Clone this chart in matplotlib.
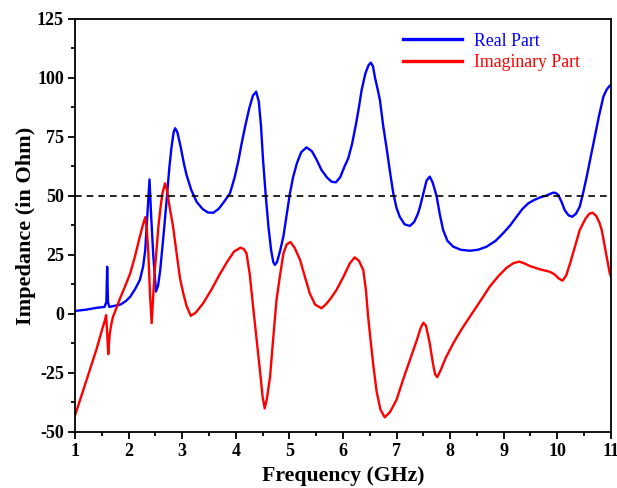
import matplotlib
matplotlib.use("Agg")
import matplotlib.pyplot as plt
from matplotlib.ticker import MultipleLocator

# Real part (frequency GHz, impedance Ohm)
real_freq = [1.0, 1.2, 1.4, 1.55, 1.585, 1.60, 1.615, 1.64, 1.75, 1.85, 1.95, 2.03, 2.12, 2.21, 2.27,
             2.31, 2.35, 2.39, 2.42, 2.46, 2.51, 2.55, 2.59, 2.65, 2.71, 2.76, 2.80, 2.84, 2.87, 2.91,
             2.97, 3.03, 3.08, 3.17, 3.27, 3.38, 3.48, 3.58, 3.68, 3.78, 3.89, 3.98, 4.05, 4.11, 4.18,
             4.25, 4.32, 4.38, 4.43, 4.47, 4.51, 4.56, 4.61, 4.66, 4.70, 4.73, 4.77, 4.83, 4.89, 4.95,
             5.01, 5.07, 5.14, 5.22, 5.32, 5.42, 5.51, 5.60, 5.70, 5.79, 5.87, 5.95, 6.03, 6.10, 6.17,
             6.24, 6.29, 6.35, 6.42, 6.48, 6.52, 6.56, 6.60, 6.65, 6.69, 6.75, 6.82, 6.88, 6.94, 7.00,
             7.06, 7.15, 7.25, 7.33, 7.40, 7.44, 7.50, 7.56, 7.62, 7.67, 7.71, 7.75, 7.81, 7.87, 7.95,
             8.06, 8.20, 8.37, 8.52, 8.68, 8.85, 8.99, 9.12, 9.24, 9.35, 9.46, 9.57, 9.68, 9.80, 9.92,
             9.97, 10.02, 10.08, 10.14, 10.21, 10.28, 10.35, 10.42, 10.48, 10.55, 10.62, 10.70, 10.78,
             10.86, 10.92, 10.97, 11.0]
real_vals = [1.3, 1.8, 2.6, 3.0, 5.0, 20.0, 5.0, 3.0, 3.5, 4.0, 5.5, 7.3, 10.5, 14.4, 20.0,
             27.0, 42.0, 57.0, 42.0, 25.0, 9.5, 12.0, 18.6, 33.0, 48.3, 62.0, 70.5, 77.0, 78.7, 77.0,
             71.0, 64.0, 59.0, 52.5, 47.5, 44.5, 43.0, 42.9, 44.5, 47.5, 51.0, 58.0, 65.0, 72.3, 80.0,
             87.0, 92.5, 94.2, 90.0, 80.0, 65.0, 50.0, 37.0, 27.0, 22.0, 20.8, 22.0, 27.0, 33.0, 42.0,
             51.0, 58.0, 63.8, 68.5, 70.6, 69.0, 65.3, 61.0, 57.9, 56.0, 55.8, 58.0, 62.5, 66.0, 72.0,
             80.0, 86.4, 95.0, 102.0, 105.5, 106.5, 105.0, 100.0, 95.0, 90.7, 80.0, 69.5, 60.0, 51.1, 45.0,
             41.2, 38.0, 37.3, 39.0, 42.5, 45.5, 51.0, 56.5, 58.2, 56.0, 53.0, 49.7, 42.0, 35.6, 31.0,
             28.5, 27.2, 26.8, 27.2, 28.5, 31.0, 34.2, 37.5, 41.2, 44.5, 46.9, 48.3, 49.4, 50.2, 51.4,
             51.3, 50.4, 47.5, 44.0, 41.8, 41.2, 42.5, 45.5, 51.0, 58.2, 66.0, 75.1, 84.0,
             92.0, 95.0, 96.5, 97.0]

# Imaginary part
imag_freq = [1.0, 1.1, 1.2, 1.3, 1.4, 1.5, 1.56, 1.58, 1.60, 1.62, 1.645, 1.68, 1.71, 1.78, 1.84,
             1.93, 2.03, 2.12, 2.21, 2.27, 2.31, 2.34, 2.37, 2.40, 2.43, 2.46, 2.49, 2.52, 2.56, 2.59,
             2.63, 2.68, 2.72, 2.76, 2.83, 2.90, 2.96, 3.02, 3.08, 3.16, 3.25, 3.39, 3.55, 3.71, 3.85,
             3.97, 4.09, 4.15, 4.20, 4.26, 4.33, 4.39, 4.45, 4.50, 4.54, 4.58, 4.64, 4.70, 4.76, 4.83,
             4.89, 4.95, 5.02, 5.10, 5.20, 5.30, 5.38, 5.48, 5.60, 5.70, 5.80, 5.88, 6.01, 6.13, 6.22,
             6.30, 6.38, 6.43, 6.47, 6.52, 6.57, 6.63, 6.70, 6.78, 6.88, 7.00, 7.12, 7.25, 7.38, 7.45,
             7.50, 7.55, 7.62, 7.68, 7.72, 7.76, 7.82, 7.92, 8.06, 8.20, 8.37, 8.55, 8.74, 8.90, 9.05,
             9.18, 9.29, 9.40, 9.49, 9.68, 9.86, 9.95, 10.03, 10.10, 10.17, 10.24, 10.33, 10.42, 10.53,
             10.60, 10.66, 10.73, 10.79, 10.83, 10.90, 10.98, 11.0]
imag_vals = [-43.0, -36.0, -29.0, -22.0, -15.0, -7.0, -2.5, -0.5, -8.0, -17.0, -9.0, -4.0, -1.1, 3.0, 6.6,
             11.5, 17.2, 24.5, 32.8, 38.0, 41.0, 36.0, 25.0, 8.0, -3.9, 8.0, 19.0, 27.0, 38.0, 44.0,
             51.0, 55.4, 52.0, 46.0, 37.0, 25.0, 15.0, 8.8, 3.5, -0.8, 0.5, 4.5, 10.5, 17.2, 22.5,
             26.5, 28.1, 27.5, 25.7, 17.0, 1.7, -11.0, -23.7, -35.0, -40.0, -36.0, -26.6, -10.0, 5.9, 17.0,
             25.7, 29.5, 30.5, 28.0, 22.9, 15.0, 8.8, 4.0, 2.4, 4.5, 7.5, 10.2, 15.8, 21.5, 24.0,
             22.5, 18.6, 10.0, -1.1, -12.0, -22.3, -33.0, -40.5, -43.8, -41.5, -36.4, -28.0, -19.5, -11.0, -6.0,
             -3.7, -5.0, -12.4, -21.0, -25.5, -26.8, -24.0, -18.5, -12.4, -7.0, -1.1, 5.0, 11.6, 16.0, 19.5,
             21.5, 22.2, 21.3, 20.3, 18.9, 17.9, 16.8, 15.0, 14.1, 16.5, 21.5, 28.5, 35.6, 40.5,
             42.5, 42.9, 41.5, 38.5, 35.6, 27.0, 17.2, 16.0]

ref_level = 50
x_ticks = list(range(1, 12))
y_ticks = [-50, -25, 0, 25, 50, 75, 100, 125]

plt.rcParams['font.family'] = ['Liberation Serif', 'DejaVu Serif']
plt.rcParams['axes.unicode_minus'] = False

fig = plt.figure(figsize=(6.17, 4.88), dpi=100)
ax = fig.add_axes([0.1216, 0.1148, 0.8684, 0.8463])

ax.plot(real_freq, real_vals, color='#0000ff', lw=1.7, label='Real Part')
ax.plot(imag_freq, imag_vals, color='#ff0000', lw=1.7, label='Imaginary Part')
ax.axhline(ref_level, color='black', lw=1.2, ls=(0, (4, 3)))

ax.set_xlim(1, 11)
ax.set_ylim(-50, 125)
ax.set_xticks(x_ticks)
ax.set_yticks(y_ticks)
ax.xaxis.set_minor_locator(MultipleLocator(0.5))
ax.yaxis.set_minor_locator(MultipleLocator(12.5))
ax.tick_params(which='major', direction='out', length=5, width=1.3, labelsize=13, pad=3)
ax.tick_params(which='minor', direction='out', length=3, width=1.3)
ax.tick_params(top=False, right=False, which='both')
for lab in ax.get_xticklabels() + ax.get_yticklabels():
    lab.set_fontweight('bold')
for s in ax.spines.values():
    s.set_linewidth(1.3)

ax.set_xlabel('Frequency (GHz)', fontsize=15.7, fontweight='bold', labelpad=4)
ax.set_ylabel('Impedance (in Ohm)', fontsize=16, fontweight='bold', labelpad=1)

leg = ax.legend(loc='upper left', bbox_to_anchor=((403 - 75) / 536, 0.967), frameon=False, fontsize=12.8,
                handlelength=3.3, handletextpad=0.7, labelspacing=0.25,
                borderpad=0, borderaxespad=0)
for t, c in zip(leg.get_texts(), ['#0000ff', '#ff0000']):
    t.set_color(c)
for h in leg.get_lines():
    h.set_linewidth(2.4)

fig.savefig('out.png', dpi=100)
